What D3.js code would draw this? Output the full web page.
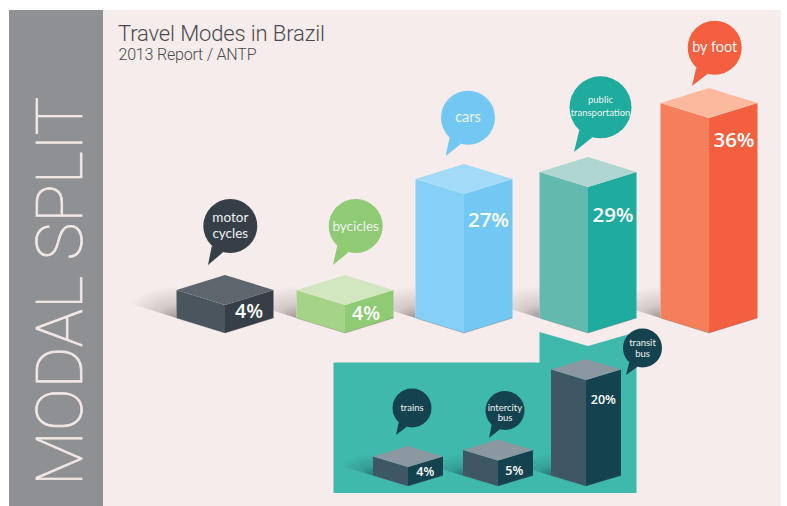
<!DOCTYPE html>
<html>
<head>
<meta charset="utf-8">
<script src="https://cdn.jsdelivr.net/npm/d3@7"></script>
<style>
  html, body { margin: 0; background: #fff; }
  svg { display: block; }
</style>
</head>
<body>
<div id="wrapper"></div>
<script>
// data
const modes = ["motor cycles", "bycicles", "cars", "public transportation", "by foot"]
const modeShares = [4, 4, 27, 29, 36]
const modeLabels = [["motor", "cycles"], ["bycicles"], ["cars"], ["public", "transportation"], ["by foot"]]

const transitModes = ["trains", "intercity bus", "transit bus"]
const transitShares = [4, 5, 20]
const transitLabels = [["trains"], ["intercity", "bus"], ["transit", "bus"]]

function drawChart() {

  // 1. Dimensions and layout
  const dimensions = { width: 787, height: 506 }

  const main = {
    centers: [225, 345, 464, 588, 709],
    heightStops: [[4, 27, 29, 36], [28, 139, 146, 215]],
    base: 333, halfWidth: 48.5, rise: 15, shadow: 52, shadowUp: 32,
    pct: [[24, 12.6], [21, 15], [24.5, 32.7], [25, 34.7], [25, 28.7]],
    pctSize: [19.5, 19.5, 20.5, 20.5, 20.5],
    bubbles: [
      { cx: 230.3, cy: 226, r: 27, tx: 208, ty: 265, size: 13.5, lh: 15.5, dy: -4 },
      { cx: 355.7, cy: 226, r: 27, tx: 333, ty: 265, size: 13.5, lh: 15, dy: 4.6 },
      { cx: 468, cy: 117.7, r: 27, tx: 445.7, ty: 156, size: 14.5, lh: 15, dy: 4 },
      { cx: 600.5, cy: 107.3, r: 31, tx: 574, ty: 152, size: 9.5, lh: 13, dy: -4.3 },
      { cx: 714.7, cy: 47.7, r: 27, tx: 692, ty: 86, size: 14.5, lh: 15, dy: 4 },
    ],
  }
  const inset = {
    centers: [408, 498, 586],
    heightStops: [[4, 5, 20], [19, 25.5, 106]],
    base: 486, halfWidth: 35, rise: 10.5, shadow: 37, shadowUp: 22,
    pct: [[17.3, 8.7], [16.3, 14], [17.3, 24]],
    pctSize: [12.5, 12.5, 12.5],
    bubbles: [
      { cx: 412, cy: 408, r: 19.5, tx: 396, ty: 435, size: 9.5, lh: 10, dy: 2.7 },
      { cx: 505, cy: 410.5, r: 19.5, tx: 489, ty: 438, size: 9.5, lh: 10, dy: 0.2 },
      { cx: 642.5, cy: 348, r: 19.5, tx: 626, ty: 375, size: 9.5, lh: 11, dy: -2.3 },
    ],
  }

  const mainColours = [
    { left: "#4a555d", right: "#363f48", top: "#5d666d" },
    { left: "#a5d488", right: "#8fca74", top: "#d2e6bf" },
    { left: "#84d0f6", right: "#72c8f2", top: "#a3daf7" },
    { left: "#62b9ad", right: "#1fab9d", top: "#b0d6d2" },
    { left: "#f57e5b", right: "#f45f3f", top: "#fdb99e" },
  ]
  const insetColour = { left: "#3e5765", right: "#15424f", top: "#8b98a1" }

  // 2. Draw canvas
  const wrapper = d3.select("#wrapper")
    .append("svg")
      .attr("width", dimensions.width)
      .attr("height", dimensions.height)

  const defs = wrapper.append("defs")

  const addShadowGradient = (id, colour, opacity) => {
    const gradient = defs.append("radialGradient")
        .attr("id", id)
        .attr("cx", 1).attr("cy", 1).attr("r", 1)
    gradient.append("stop").attr("offset", 0).attr("stop-color", colour).attr("stop-opacity", opacity)
    gradient.append("stop").attr("offset", 0.4).attr("stop-color", colour).attr("stop-opacity", opacity * 0.4)
    gradient.append("stop").attr("offset", 1).attr("stop-color", colour).attr("stop-opacity", 0)
  }
  addShadowGradient("shadow-main", "#6f6666", 0.65)
  addShadowGradient("shadow-inset", "#1c5a5e", 0.7)

  // 3. Background, side band and titles
  wrapper.append("rect")
      .attr("x", 9).attr("y", 10)
      .attr("width", 772).attr("height", 496)
      .attr("fill", "#f6ecec")

  wrapper.append("rect")
      .attr("x", 9).attr("y", 10)
      .attr("width", 94).attr("height", 496)
      .attr("fill", "#8f9094")

  // thin weight plus a hairline stroke, the light weight alone is too heavy
  wrapper.append("text")
      .attr("transform", "translate(81.5,486) rotate(-90)")
      .attr("textLength", 389)
      .attr("lengthAdjust", "spacing")
      .style("font-family", "Roboto")
      .style("font-weight", 100)
      .style("font-size", "64px")
      .attr("fill", "#f3e8e6")
      .attr("stroke", "#f3e8e6")
      .attr("stroke-width", 0.7)
      .text("MODAL SPLIT")

  wrapper.append("text")
      .attr("x", 118).attr("y", 41)
      .attr("textLength", 207)
      .style("font-family", "Roboto")
      .style("font-weight", 300)
      .style("font-size", "22px")
      .attr("fill", "#4a4a4c")
      .text("Travel Modes in Brazil")

  wrapper.append("text")
      .attr("x", 118.5).attr("y", 60)
      .attr("textLength", 138)
      .style("font-family", "Roboto")
      .style("font-weight", 300)
      .style("font-size", "16px")
      .attr("fill", "#4a4a4c")
      .text("2013 Report / ANTP")

  // 4. Inset panel for the public transportation split
  const panelLine = d3.line()
  wrapper.append("path")
      .attr("d", panelLine([[333.5, 362.5], [539.5, 362.5], [539.5, 332], [588, 346], [636.5, 332], [636.5, 493], [333.5, 493]]) + "Z")
      .attr("fill", "#3fb9ac")

  // 5. Boxes
  const drawBoxes = (group, categories, shares, labels, layout, colourOf, shadowId) => {
    const xScale = d3.scaleOrdinal(categories, layout.centers)
    const heightScale = d3.scaleLinear()
        .domain(layout.heightStops[0])
        .range(layout.heightStops[1])

    const rows = categories.map((name, i) => ({ name, share: shares[i], lines: labels[i], i }))
    const w = layout.halfWidth
    const rise = layout.rise
    const base = layout.base
    const slope = rise / w
    const line = d3.line()

    group.selectAll(".shadow")
      .data(rows)
      .join("path")
        .attr("class", "shadow")
        .attr("d", d => {
          const xl = xScale(d.name) - w
          const yl = base - rise
          return line([[xl - layout.shadow, yl - layout.shadow * slope], [xl, yl], [xl, yl - layout.shadowUp], [xl - layout.shadow, yl - layout.shadowUp]]) + "Z"
        })
        .attr("fill", `url(#${shadowId})`)

    const boxes = group.selectAll(".box")
      .data(rows)
      .join("g")
        .attr("class", "box")

    const frontY = d => base - heightScale(d.share)

    boxes.append("path")
        .attr("d", d => {
          const c = xScale(d.name)
          return line([[c - w, frontY(d) - rise], [c, frontY(d)], [c, base], [c - w, base - rise]]) + "Z"
        })
        .attr("fill", d => colourOf(d).left)

    boxes.append("path")
        .attr("d", d => {
          const c = xScale(d.name)
          return line([[c, frontY(d)], [c + w, frontY(d) - rise], [c + w, base - rise], [c, base]]) + "Z"
        })
        .attr("fill", d => colourOf(d).right)

    boxes.append("path")
        .attr("d", d => {
          const c = xScale(d.name)
          return line([[c - w, frontY(d) - rise], [c, frontY(d) - 2 * rise], [c + w, frontY(d) - rise], [c, frontY(d)]]) + "Z"
        })
        .attr("fill", d => colourOf(d).top)

    // thin dark line along the floor edge
    boxes.append("path")
        .attr("d", d => {
          const c = xScale(d.name)
          return line([[c - w, base - rise], [c, base], [c + w, base - rise]])
        })
        .attr("fill", "none")
        .attr("stroke", "#555")
        .attr("stroke-opacity", 0.35)
        .attr("stroke-width", 0.8)

    boxes.append("text")
        .attr("x", d => xScale(d.name) + layout.pct[d.i][0])
        .attr("y", d => frontY(d) + layout.pct[d.i][1])
        .attr("text-anchor", "middle")
        .style("font-family", "'Open Sans'")
        .style("font-weight", 600)
        .style("font-size", d => layout.pctSize[d.i] + "px")
        .attr("fill", "#fff")
        .text(d => d.share + "%")

    // speech bubbles
    const bubbles = group.selectAll(".bubble")
      .data(rows)
      .join("g")
        .attr("class", "bubble")

    const tailPoint = (b, degrees) => {
      const a = degrees * Math.PI / 180
      return [b.cx + b.r * Math.cos(a), b.cy + b.r * Math.sin(a)]
    }

    bubbles.append("circle")
        .attr("cx", d => layout.bubbles[d.i].cx)
        .attr("cy", d => layout.bubbles[d.i].cy)
        .attr("r", d => layout.bubbles[d.i].r)
        .attr("fill", d => colourOf(d).right)

    bubbles.append("path")
        .attr("d", d => {
          const b = layout.bubbles[d.i]
          return line([tailPoint(b, 133), [b.tx, b.ty], tailPoint(b, 105)]) + "Z"
        })
        .attr("fill", d => colourOf(d).right)

    bubbles.each(function(d) {
      const b = layout.bubbles[d.i]
      d3.select(this).selectAll("text")
        .data(d.lines)
        .join("text")
          .attr("x", b.cx)
          .attr("y", (t, k) => b.cy + b.dy + k * b.lh)
          .attr("text-anchor", "middle")
          .style("font-family", "Lato")
          .style("font-size", b.size + "px")
          .attr("fill", "#eef3f1")
          .text(t => t)
    })
  }

  drawBoxes(wrapper.append("g"), modes, modeShares, modeLabels, main, d => mainColours[d.i], "shadow-main")
  drawBoxes(wrapper.append("g"), transitModes, transitShares, transitLabels, inset, () => insetColour, "shadow-inset")
}
drawChart()
</script>
</body>
</html>
